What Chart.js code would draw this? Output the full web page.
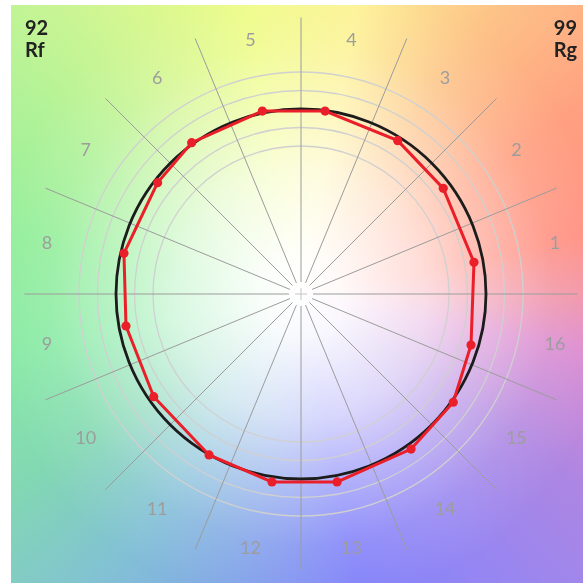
<!DOCTYPE html>
<html>
<head>
<meta charset="utf-8">
<script src="https://cdn.jsdelivr.net/npm/chart.js@4"></script>
<style>
  html, body { margin: 0; padding: 0; background: #fff; overflow: hidden; }
  #chart { display: block; }
</style>
</head>
<body>
<canvas id="chart" width="583" height="583"></canvas>
<script>
// hue bin labels (1..16, counter-clockwise from the right)
const binLabels = ['1','2','3','4','5','6','7','8','9','10','11','12','13','14','15','16'];
// test source, normalised to the reference circle (radius 1)
const testX = [0.935, 0.769, 0.523, 0.130, -0.209, -0.591, -0.775, -0.957, -0.946, -0.796, -0.497, -0.157, 0.195, 0.595, 0.823, 0.919];
const testY = [0.171, 0.571, 0.829, 0.989, 0.989, 0.818, 0.602, 0.220, -0.173, -0.555, -0.870, -1.016, -1.016, -0.838, -0.585, -0.276];
// grid rings relative to reference
const rings = [0.8, 0.9, 1.1, 1.2];
// background hue colours per bin
const binColors = ['#ff9082','#ffa080','#fdc488','#fdf296','#eefc88','#d2f692','#b0f298','#92ee9a',
                   '#88eaa4','#82d8b2','#82c0d6','#82a2ea','#8282fa','#9686f2','#ae86e2','#dc8cd0'];
const fidelity = { value: '92', name: 'Rf' };
const gamut = { value: '99', name: 'Rg' };

const R = 185; // px of reference circle (only used for scale range)

const testPoints = testX.map((x, i) => ({ x, y: testY[i] }));
const closed = testPoints.concat([testPoints[0]]);

const vectorPlugin = {
  id: 'vectorBg',
  beforeDatasetsDraw(chart) {
    const { ctx, chartArea: a, scales: { x, y } } = chart;
    const cx = x.getPixelForValue(0), cy = y.getPixelForValue(0);
    const unit = x.getPixelForValue(1) - cx;
    ctx.save();
    ctx.beginPath();
    ctx.rect(a.left, a.top, a.right - a.left, a.bottom - a.top);
    ctx.clip();

    // hue wheel
    if (ctx.createConicGradient) {
      const g = ctx.createConicGradient(0, cx, cy);
      const stops = binColors.map((c, i) => {
        const ang = 11.25 + 22.5 * i;
        return { t: ((360 - ang) % 360) / 360, c };
      }).sort((p, q) => p.t - q.t);
      const mid = '#f294a6';
      g.addColorStop(0, mid);
      stops.forEach(s => g.addColorStop(s.t, s.c));
      g.addColorStop(1, mid);
      ctx.fillStyle = g;
      ctx.fillRect(a.left, a.top, a.right - a.left, a.bottom - a.top);
    } else {
      binColors.forEach((c, i) => {
        const a0 = -(22.5 * (i + 1)) * Math.PI / 180, a1 = -(22.5 * i) * Math.PI / 180;
        ctx.beginPath(); ctx.moveTo(cx, cy); ctx.arc(cx, cy, 600, a0, a1); ctx.closePath();
        ctx.fillStyle = c; ctx.fill();
      });
    }
    // white fade toward centre
    const rg = ctx.createRadialGradient(cx, cy, 0, cx, cy, 420);
    rg.addColorStop(0, 'rgba(255,255,255,1)');
    rg.addColorStop(0.1, 'rgba(255,255,255,0.94)');
    rg.addColorStop(0.3, 'rgba(255,255,255,0.68)');
    rg.addColorStop(0.44, 'rgba(255,255,255,0.4)');
    rg.addColorStop(0.6, 'rgba(255,255,255,0.12)');
    rg.addColorStop(0.75, 'rgba(255,255,255,0)');
    ctx.fillStyle = rg;
    ctx.fillRect(a.left, a.top, a.right - a.left, a.bottom - a.top);

    // rings
    ctx.strokeStyle = '#d0d0d0';
    ctx.lineWidth = 1.3;
    rings.forEach(r => {
      ctx.beginPath(); ctx.arc(cx, cy, r * unit, 0, Math.PI * 2); ctx.stroke();
    });

    // spokes at bin edges
    ctx.strokeStyle = '#9c9c9c';
    ctx.lineWidth = 1;
    for (let i = 0; i < 16; i++) {
      const t = i * 22.5 * Math.PI / 180;
      ctx.beginPath();
      ctx.moveTo(cx + 12 * Math.cos(t), cy - 12 * Math.sin(t));
      ctx.lineTo(cx + 1.495 * unit * Math.cos(t), cy - 1.495 * unit * Math.sin(t));
      ctx.stroke();
    }
    // centre cross
    ctx.strokeStyle = '#c4c4c4';
    ctx.beginPath();
    ctx.moveTo(cx - 6, cy); ctx.lineTo(cx + 6, cy);
    ctx.moveTo(cx, cy - 6); ctx.lineTo(cx, cy + 6);
    ctx.stroke();

    // bin numbers
    ctx.fillStyle = '#9d9d9d';
    ctx.font = '18px Lato, "Noto Sans", sans-serif';
    ctx.textAlign = 'center';
    ctx.textBaseline = 'middle';
    binLabels.forEach((lbl, i) => {
      const t = (11.25 + 22.5 * i) * Math.PI / 180;
      ctx.fillText(lbl, cx + 1.4 * unit * Math.cos(t), cy - 1.4 * unit * Math.sin(t));
    });

    // reference circle
    ctx.strokeStyle = '#1c1c1c';
    ctx.lineWidth = 2.8;
    ctx.beginPath(); ctx.arc(cx, cy, unit, 0, Math.PI * 2); ctx.stroke();
    ctx.restore();
  },
  afterDraw(chart) {
    const { ctx } = chart;
    ctx.save();
    ctx.fillStyle = '#222';
    ctx.font = 'bold 20px Lato, "Noto Sans", sans-serif';
    ctx.textBaseline = 'alphabetic';
    ctx.textAlign = 'left';
    ctx.fillText(fidelity.value, 25, 35);
    ctx.fillText(fidelity.name, 25, 57);
    ctx.textAlign = 'right';
    ctx.fillText(gamut.value, 577, 35);
    ctx.fillText(gamut.name, 577, 57);
    ctx.restore();
  }
};

new Chart(document.getElementById('chart'), {
  type: 'scatter',
  data: {
    datasets: [{
      label: 'Test',
      data: closed,
      showLine: true,
      borderColor: '#ea1f2a',
      backgroundColor: '#ea1f2a',
      borderWidth: 3,
      pointBorderWidth: 0,
      pointRadius: closed.map((_, i) => i === closed.length - 1 ? 0 : 4.6),
      pointHoverRadius: 0,
      tension: 0
    }]
  },
  options: {
    responsive: false,
    animation: false,
    layout: { autoPadding: false, padding: { left: 11, top: 5, right: 0, bottom: 0 } },
    plugins: { legend: { display: false }, tooltip: { enabled: false } },
    scales: {
      x: { type: 'linear', display: false, min: (11 - 301) / R, max: (583 - 301) / R },
      y: { type: 'linear', display: false, min: -(583 - 294) / R, max: (294 - 5) / R }
    }
  },
  plugins: [vectorPlugin]
});
</script>
</body>
</html>
